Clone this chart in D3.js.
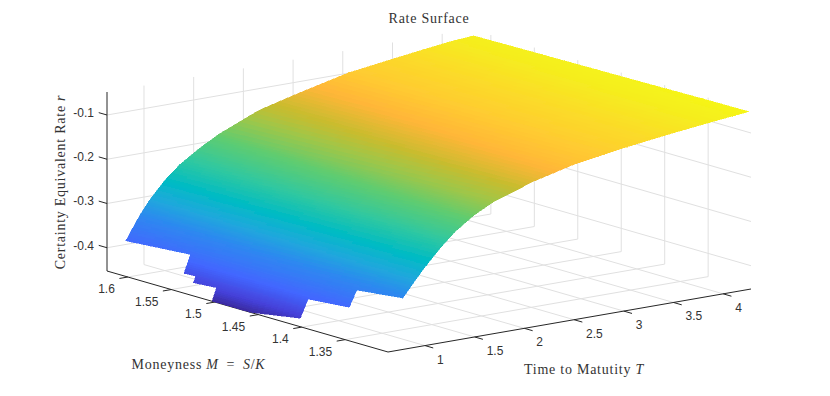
<!DOCTYPE html>
<html>
<head>
<meta charset="utf-8">
<script src="https://cdn.jsdelivr.net/npm/d3@7"></script>
<style>
  html, body { margin: 0; padding: 0; background: #fff; }
  .tick { font-family: "Liberation Sans", Arial, sans-serif; font-size: 12px; fill: #333; }
  .lbl { font-family: "Liberation Serif", serif; font-size: 14px; letter-spacing: 0.75px; fill: #333; }
</style>
</head>
<body>
<div id="chart"></div>
<script>
// axis limits and ticks
var tLim = [0.628, 4.28];
var mLim = [1.3007, 1.624];
var rLim = [-0.4526, -0.048];
var tTicks = [1, 1.5, 2, 2.5, 3, 3.5, 4];
var mTicks = [1.35, 1.4, 1.45, 1.5, 1.55, 1.6];
var rTicks = [-0.4, -0.3, -0.2, -0.1];

// surface, null where the grid has no quote
var maturities = [0.628, 0.671, 0.694, 0.705, 0.76, 0.78, 0.9, 1.0, 1.15, 1.3, 1.5, 1.7, 2.1, 2.5, 3.0, 3.5, 4.0, 4.26];
var moneyness = [1.301, 1.354, 1.4015, 1.459, 1.503, 1.5295, 1.543, 1.6175];
var rates = [
  [null, null, -0.4334, -0.4526, -0.4522, null, null, null],
  [null, null, -0.4108, -0.4220, -0.4235, -0.4273, null, null],
  [null, null, -0.3990, -0.4080, -0.4110, -0.4131, -0.4147, null],
  [null, -0.3849, -0.3930, -0.4010, -0.4040, -0.4065, -0.4080, null],
  [null, -0.3584, -0.3660, -0.3700, -0.3725, -0.3735, -0.3745, -0.3858],
  [-0.3368, -0.3488, -0.3560, -0.3600, -0.3630, -0.3650, -0.3660, -0.3783],
  [-0.3030, -0.3080, -0.3130, -0.3185, -0.3230, -0.3250, -0.3270, -0.3340],
  [-0.2760, -0.2805, -0.2845, -0.2895, -0.2930, -0.2955, -0.2965, -0.3030],
  [-0.2400, -0.2440, -0.2480, -0.2525, -0.2560, -0.2580, -0.2590, -0.2650],
  [-0.2080, -0.2125, -0.2170, -0.2220, -0.2255, -0.2280, -0.2290, -0.2355],
  [-0.1770, -0.1820, -0.1860, -0.1915, -0.1955, -0.1980, -0.1990, -0.2060],
  [-0.1540, -0.1585, -0.1625, -0.1675, -0.1710, -0.1735, -0.1745, -0.1810],
  [-0.1240, -0.1270, -0.1300, -0.1335, -0.1360, -0.1380, -0.1385, -0.1430],
  [-0.1020, -0.1050, -0.1077, -0.1110, -0.1135, -0.1150, -0.1160, -0.1200],
  [-0.0840, -0.0856, -0.0870, -0.0888, -0.0900, -0.0910, -0.0913, -0.0935],
  [-0.0695, -0.0710, -0.0720, -0.0738, -0.0750, -0.0756, -0.0760, -0.0780],
  [-0.0570, -0.0580, -0.0590, -0.0600, -0.0610, -0.0617, -0.0620, -0.0635],
  [-0.0510, -0.0520, -0.0535, -0.0550, -0.0560, -0.0568, -0.0570, -0.0590]
];

// colormap
var colorLevels = [-0.4526, -0.43, -0.39, -0.335, -0.30, -0.265, -0.225, -0.185, -0.155, -0.135, -0.112, -0.095, -0.075, -0.06, -0.048];
var colorRange = ["#3a2aa0", "#4440d8", "#4366ff", "#2d88f0", "#1fa8dc", "#00bbc4", "#30c8a0", "#5fcc70", "#a0c648", "#c8bc2e", "#ffb638", "#ffc832", "#fbdc28", "#f5ee1e", "#f6f814"];
var myColor = d3.scaleLinear().domain(colorLevels).range(colorRange).clamp(true);

var width = 830, height = 396;
var svg = d3.select("#chart").append("svg")
    .attr("width", width)
    .attr("height", height)
    .style("display", "block");

svg.append("defs").append("filter")
    .attr("id", "soft")
  .append("feGaussianBlur")
    .attr("stdDeviation", 0.5);

// oblique projection, the front floor corner is the origin
var origin = {x: 388, y: 352};
var tx = d3.scaleLinear().domain(tLim).range([0, 363]);
var ty = d3.scaleLinear().domain(tLim).range([0, -63]);
var mx = d3.scaleLinear().domain(mLim).range([0, -281]);
var my = d3.scaleLinear().domain(mLim).range([0, -81]);
var rz = d3.scaleLinear().domain(rLim).range([0, -179]);

function px(t, m) { return origin.x + tx(t) + mx(m); }
function py(t, m, r) { return origin.y + ty(t) + my(m) + rz(r); }

var line3 = d3.line()
    .x(function(d) { return px(d[0], d[1]); })
    .y(function(d) { return py(d[0], d[1], d[2]); });

function drawLine(p, color, w) {
  svg.append("path")
      .attr("d", line3(p))
      .attr("fill", "none")
      .attr("stroke", color)
      .attr("stroke-width", w);
}

// grid on the floor and the two back walls
var gridColor = "#e0e0e0";
var tMax = tLim[1], mMax = mLim[1], rMin = rLim[0], rMax = rLim[1];
tTicks.forEach(function(t) {
  drawLine([[t, mLim[0], rMin], [t, mMax, rMin], [t, mMax, rMax]], gridColor, 1);
});
mTicks.forEach(function(m) {
  drawLine([[tLim[0], m, rMin], [tMax, m, rMin], [tMax, m, rMax]], gridColor, 1);
});
rTicks.forEach(function(r) {
  drawLine([[tLim[0], mMax, r], [tMax, mMax, r], [tMax, mLim[0], r]], gridColor, 1);
});

// axes
var axisColor = "#262626";
drawLine([[tLim[0], mMax, rMax], [tLim[0], mMax, rMin], [tLim[0], mLim[0], rMin], [tMax, mLim[0], rMin]], axisColor, 1);

var tickT = 0.085, tickM = 0.0095;
rTicks.forEach(function(r) {
  drawLine([[tLim[0], mMax, r], [tLim[0], mMax + tickM, r]], axisColor, 1);
  svg.append("text").attr("class", "tick")
      .attr("x", px(tLim[0], mMax) - 13)
      .attr("y", py(tLim[0], mMax, r) + 2)
      .attr("text-anchor", "end")
      .text(r.toFixed(1));
});
mTicks.forEach(function(m) {
  drawLine([[tLim[0], m, rMin], [tLim[0] - tickT, m, rMin]], axisColor, 1);
  svg.append("text").attr("class", "tick")
      .attr("x", px(tLim[0], m) - 13)
      .attr("y", py(tLim[0], m, rMin) + 16)
      .attr("text-anchor", "end")
      .text(d3.format("")(m));
});
tTicks.forEach(function(t) {
  drawLine([[t, mLim[0], rMin], [t, mLim[0] - tickM, rMin]], axisColor, 1);
  svg.append("text").attr("class", "tick")
      .attr("x", px(t, mLim[0]) + 12)
      .attr("y", py(t, mLim[0], rMin) + 18)
      .text(d3.format("")(t));
});

// interpolated shading: each grid cell is split into small quads, back to front
var nSub = 8;
var quads = [];
for (var i = maturities.length - 2; i >= 0; i--) {
  for (var j = moneyness.length - 2; j >= 0; j--) {
    var r00 = rates[i][j], r01 = rates[i][j + 1], r10 = rates[i + 1][j], r11 = rates[i + 1][j + 1];
    if (r00 === null || r01 === null || r10 === null || r11 === null) continue;
    for (var a = nSub - 1; a >= 0; a--) {
      for (var b = nSub - 1; b >= 0; b--) {
        quads.push({i: i, j: j, a: a, b: b, c: [r00, r01, r10, r11]});
      }
    }
  }
}

function surfPoint(q, u, v) {
  var t = maturities[q.i] + (maturities[q.i + 1] - maturities[q.i]) * u;
  var m = moneyness[q.j] + (moneyness[q.j + 1] - moneyness[q.j]) * v;
  var r = q.c[0] * (1 - u) * (1 - v) + q.c[1] * (1 - u) * v + q.c[2] * u * (1 - v) + q.c[3] * u * v;
  return [t, m, r];
}

function quadColor(q) {
  return myColor(surfPoint(q, (q.a + 0.5) / nSub, (q.b + 0.5) / nSub)[2]);
}

svg.append("g")
    .attr("filter", "url(#soft)")
    .attr("shape-rendering", "crispEdges")
  .selectAll("path")
    .data(quads)
  .enter().append("path")
    .attr("d", function(q) {
      var u0 = q.a / nSub, u1 = (q.a + 1) / nSub, v0 = q.b / nSub, v1 = (q.b + 1) / nSub;
      return line3([surfPoint(q, u0, v0), surfPoint(q, u0, v1), surfPoint(q, u1, v1), surfPoint(q, u1, v0)]) + "Z";
    })
    .attr("fill", quadColor)
    .attr("stroke", quadColor)
    .attr("stroke-width", 0.5);

// title and axis labels
function addLabel(parts, x, y, rotate) {
  var t = svg.append("text").attr("class", "lbl")
      .attr("text-anchor", "middle")
      .attr("transform", "translate(" + x + "," + y + ")" + (rotate ? " rotate(" + rotate + ")" : ""));
  parts.forEach(function(p) {
    t.append("tspan").style("font-style", p[1] ? "italic" : "normal").text(p[0]);
  });
}
addLabel([["Rate Surface", 0]], 429, 23);
addLabel([["Certainty Equivalent Rate ", 0], ["r", 1]], 64.5, 182, -90);
addLabel([["Moneyness ", 0], ["M", 1], ["\u2002=\u2002", 0], ["S", 1], ["/", 0], ["K", 1]], 198.5, 369);
addLabel([["Time to Matutity ", 0], ["T", 1]], 584, 374);
</script>
</body>
</html>
